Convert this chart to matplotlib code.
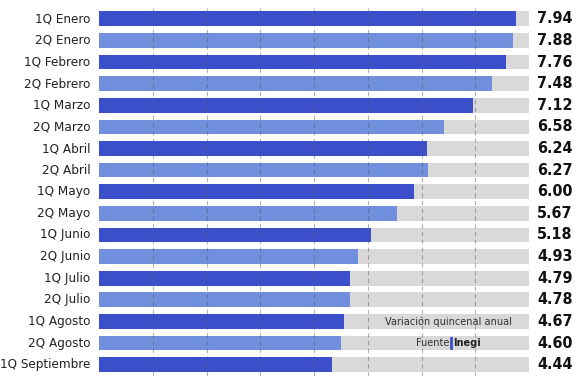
import matplotlib.pyplot as plt
import numpy as np

labels = ["1Q Enero", "2Q Enero", "1Q Febrero", "2Q Febrero", "1Q Marzo", "2Q Marzo",
          "1Q Abril", "2Q Abril", "1Q Mayo", "2Q Mayo", "1Q Junio", "2Q Junio",
          "1Q Julio", "2Q Julio", "1Q Agosto", "2Q Agosto", "1Q Septiembre"]
values = [7.94, 7.88, 7.76, 7.48, 7.12, 6.58, 6.24, 6.27, 6.00, 5.67, 5.18, 4.93,
          4.79, 4.78, 4.67, 4.60, 4.44]
bg_max = 8.19

dark = "#3b4fcb"
light = "#7090dd"
grey = "#d9d9d9"

plt.rcParams['font.family'] = ['DejaVu Sans']
plt.rcParams['font.stretch'] = 'condensed'

fig = plt.figure(figsize=(5.81, 3.81), dpi=100)
ax = fig.add_axes([99 / 581, 1 - 375.5 / 381, 430 / 581, 367.5 / 381])

y = np.arange(len(values))
colors = [dark if i % 2 == 0 else light for i in range(len(values))]
ax.barh(y, [bg_max] * len(values), height=0.68, color=grey, zorder=1)
ax.barh(y, values, height=0.68, color=colors, zorder=2)

# dashed guide lines splitting the grey area into 8 parts
for k in range(1, 8):
    ax.axvline(bg_max * k / 8, color="#555555", lw=0.8, ls=(0, (4, 3)), alpha=0.45, zorder=3)

ax.set_xlim(0, bg_max)
ax.set_ylim(len(values) - 0.5, -0.5)
ax.axis("off")

for i, (lab, v) in enumerate(zip(labels, values)):
    ax.text(-0.16, i, lab, ha="right", va="center", fontsize=9.6, color="#222222",
            fontstretch="condensed")
    ax.text(9.02, i, f"{v:.2f}", ha="right", va="center", fontsize=11.5,
            fontweight="bold", color="#111111", fontstretch="condensed")

ax.text(6.66, 14, "Variación quincenal anual", ha="center", va="center",
        fontsize=7.8, color="#333333", zorder=4, fontstretch="condensed")
ax.text(6.68, 15, "Fuente", ha="right", va="center", fontsize=7.8, color="#333333",
        zorder=4, fontstretch="condensed")
ax.plot([6.71, 6.71], [14.75, 15.25], color=dark, lw=2, zorder=4)
ax.text(6.74, 15, "Inegi", ha="left", va="center", fontsize=7.8, fontweight="bold",
        color="#222222", zorder=4, fontstretch="condensed")

fig.savefig("out.png", dpi=100)
